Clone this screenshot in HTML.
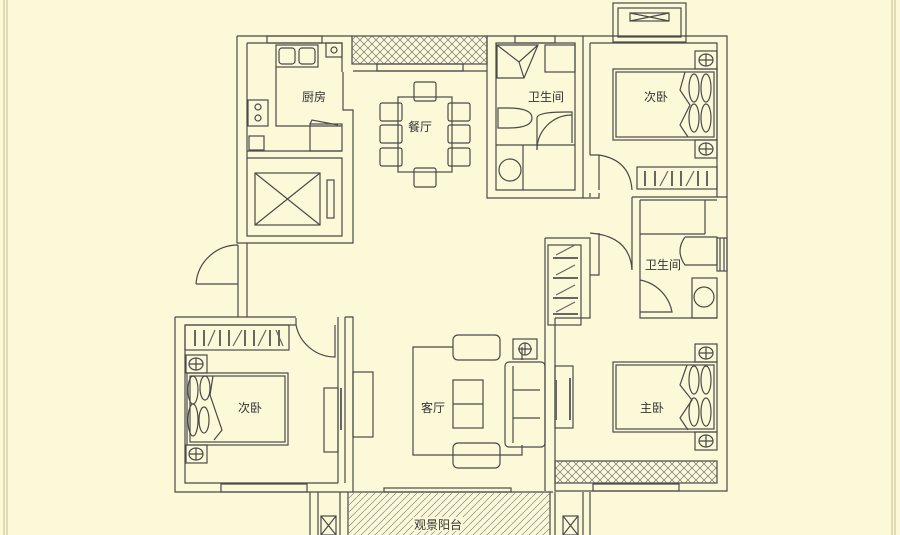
<!DOCTYPE html>
<html><head><meta charset="utf-8"><style>
html,body{margin:0;padding:0;background:#fcf9d9;}
svg{display:block;}
text{font-family:"Liberation Sans","Noto Sans CJK SC",sans-serif;font-size:12px;fill:#333;}
</style></head><body>
<svg width="900" height="535" viewBox="0 0 900 535" xmlns="http://www.w3.org/2000/svg">
<defs>
<pattern id="xh" width="8" height="8" patternUnits="userSpaceOnUse">
<path d="M0,0L8,8M8,0L0,8" stroke="#777" stroke-width="0.7"/>
</pattern>
<pattern id="dh" width="7" height="7" patternUnits="userSpaceOnUse">
<path d="M0,7L7,0" stroke="#888" stroke-width="0.7"/>
</pattern>
</defs>
<rect width="900" height="535" fill="#fcf9d9"/>
<g stroke="#cfc7a0" stroke-width="1.2">
<line x1="4" y1="0" x2="4" y2="535"/><line x1="7" y1="0" x2="7" y2="535"/>
<line x1="892" y1="0" x2="892" y2="535"/><line x1="895" y1="0" x2="895" y2="535"/>
</g>
<g fill="none" stroke="#4a4a4a" stroke-width="1.2">
<!-- kitchen / elevator block -->
<path d="M237,36H352M237,36V243H353V110H343V72"/>
<path d="M247,43H342V72M247,43V236H342V158H247"/>
<line x1="247" y1="151" x2="342" y2="151"/>
<rect x="267" y="36" width="55" height="7"/>
<rect x="255" y="173" width="65" height="52"/><path d="M255,173L320,225M320,173L255,225"/>
<rect x="327" y="180" width="7" height="38"/>
<rect x="276" y="45" width="42" height="22"/><rect x="279" y="48" width="16" height="16" rx="3"/><rect x="299" y="48" width="16" height="16" rx="3"/>
<rect x="326" y="43" width="16" height="14"/><circle cx="334" cy="50" r="3"/>
<path d="M276,67V126H342"/>
<rect x="248" y="100" width="20" height="26"/><circle cx="258" cy="107" r="3"/><circle cx="258" cy="118" r="3"/>
<rect x="249" y="136" width="15" height="14"/>
<rect x="310" y="124" width="32" height="27"/><path d="M310,124L312,120L338,125"/>
<!-- hatched window top -->
<rect x="352" y="36" width="135" height="28" fill="url(#xh)"/>
<rect x="377" y="64" width="86" height="7"/>
<path d="M353,71H487"/>
<!-- dining -->
<rect x="398" y="97" width="54" height="75"/>
<rect x="414" y="82" width="22" height="19" rx="2"/><rect x="414" y="168" width="22" height="19" rx="2"/>
<rect x="380" y="103" width="22" height="18" rx="2"/><rect x="380" y="125" width="22" height="18" rx="2"/><rect x="380" y="148" width="22" height="18" rx="2"/>
<rect x="448" y="103" width="22" height="18" rx="2"/><rect x="448" y="125" width="22" height="18" rx="2"/><rect x="448" y="148" width="22" height="18" rx="2"/>
<!-- bath 1 -->
<path d="M487,71V36H583V198H487V71"/>
<path d="M496,43H575V190H496Z"/>
<rect x="515" y="36" width="40" height="7"/>
<path d="M497,45H538L524,78H497Z"/><path d="M497,45L519,62L538,45M519,62L524,78"/>
<rect x="545" y="45" width="30" height="27"/>
<path d="M498,108H508Q532,108 532,118Q532,128 508,128H498Z"/>
<path d="M496,145H575M523,145V190"/><circle cx="510" cy="170" r="11"/>
<path d="M537,150V118Q537,112 566,112H572V143"/>
<path d="M537,150A35,35 0 0 1 572,115"/>
<!-- right upper block -->
<path d="M583,36H727V491H555V318"/>
<path d="M590,43H717V197M590,43V155"/>
<rect x="613" y="3" width="73" height="39"/><rect x="618" y="8" width="63" height="29"/>
<rect x="630" y="13" width="39" height="8"/><path d="M630,13L669,21M669,13L630,21"/>
<rect x="613" y="69" width="104" height="71"/><rect x="616" y="72" width="98" height="65"/>
<rect x="695" y="51" width="22" height="18"/><ellipse cx="706" cy="60" rx="7" ry="6"/><path d="M699,60H713M706,54V66"/>
<rect x="695" y="140" width="22" height="18"/><ellipse cx="706" cy="149" rx="7" ry="6"/><path d="M699,149H713M706,143V155"/>
<ellipse cx="694" cy="88" rx="5" ry="14"/><ellipse cx="706" cy="88" rx="5" ry="14"/><ellipse cx="694" cy="118" rx="5" ry="14"/><ellipse cx="706" cy="118" rx="5" ry="14"/>
<path d="M685,72L680,90L690,105L680,125L688,137"/>
<rect x="637" y="167" width="80" height="22"/>
<path d="M590,155H599Q630,160 632,190M599,155V190"/>
<path d="M590,197V193M583,198H599V193M583,198V198"/>
<path d="M632,197H727M632,197V270M640,200V318H717M640,200H717"/>
<path d="M640,234H705M705,200V234"/>
<path d="M685,237H717V265H685Q675,251 685,237"/>
<rect x="717" y="238" width="10" height="33"/><path d="M720,238V271M724,238V271"/>
<rect x="692" y="278" width="25" height="40"/><circle cx="704" cy="297" r="10"/>
<path d="M640,280A40,40 0 0 1 672,312H640"/>
<path d="M590,233Q630,236 632,270M599,233V275H590"/>
<!-- corridor wall segment -->
<path d="M545,238H590V318H555M545,238V491"/>
<rect x="548" y="245" width="33" height="80"/>
<!-- master bedroom -->
<rect x="613" y="362" width="104" height="70"/><rect x="616" y="365" width="98" height="64"/>
<rect x="695" y="344" width="22" height="18"/><ellipse cx="706" cy="353" rx="7" ry="6"/><path d="M699,353H713M706,347V359"/>
<rect x="695" y="432" width="22" height="18"/><ellipse cx="706" cy="441" rx="7" ry="6"/><path d="M699,441H713M706,435V447"/>
<ellipse cx="694" cy="380" rx="5" ry="14"/><ellipse cx="706" cy="380" rx="5" ry="14"/><ellipse cx="694" cy="412" rx="5" ry="14"/><ellipse cx="706" cy="412" rx="5" ry="14"/>
<path d="M687,365L680,385L692,400L680,418L688,430"/>
<rect x="555" y="461" width="162" height="22" fill="url(#xh)"/>
<rect x="593" y="484" width="86" height="7"/>
<rect x="555" y="366" width="18" height="62"/>
<!-- entry -->
<path d="M196,284H238V245M238,284V317M247,243V317M196,284A42,42 0 0 1 238,245"/>
<!-- left bedroom -->
<path d="M175,317H296M175,317V492H553M185,325H296V318M185,325V483H338"/>
<path d="M338,317V483M345,317H353V492M345,317V483"/>
<rect x="185" y="325" width="104" height="25"/>
<path d="M296,325A40,40 0 0 0 335,357V325"/>
<rect x="187" y="373" width="101" height="72"/><rect x="190" y="376" width="95" height="66"/>
<rect x="186" y="355" width="21" height="18"/><ellipse cx="196" cy="364" rx="7" ry="6"/><path d="M189,364H203M196,358V370"/>
<rect x="186" y="445" width="21" height="18"/><ellipse cx="196" cy="454" rx="7" ry="6"/><path d="M189,454H203M196,448V460"/>
<ellipse cx="193" cy="390" rx="5" ry="14"/><ellipse cx="205" cy="388" rx="5" ry="12"/><ellipse cx="193" cy="420" rx="5" ry="16"/><ellipse cx="204" cy="420" rx="5" ry="13"/>
<path d="M213,376L210,395L222,430L214,440"/>
<rect x="221" y="484" width="86" height="8"/>
<rect x="324" y="388" width="14" height="64"/><rect x="353" y="372" width="20" height="65"/>
<!-- living -->
<path d="M453,347H413V455H522V445M522,360V347"/>
<rect x="453" y="335" width="47" height="25" rx="5"/><rect x="453" y="443" width="47" height="25" rx="5"/>
<rect x="453" y="380" width="30" height="48"/><path d="M453,404H483"/>
<rect x="505" y="362" width="40" height="85" rx="4"/><path d="M513,366V443M513,390H540M513,418H540"/>
<rect x="513" y="339" width="24" height="20"/><circle cx="525" cy="349" r="6"/><path d="M518,349H532M525,343V355"/>
<rect x="384" y="488" width="127" height="4"/>
<!-- balcony -->
<path d="M310,492V535M318,492V535M340,492V535M348,492V535M550,492V535M555,492V535M583,492V535M590,492V535"/>
<rect x="348" y="492" width="202" height="43" fill="url(#dh)" stroke="none"/>
<rect x="321" y="516" width="15" height="19"/><path d="M321,516L336,535M336,516L321,535"/>
<rect x="563" y="516" width="15" height="19"/><path d="M563,516L578,535M578,516L563,535"/>
</g>
<g stroke="#666" stroke-width="2">
<path d="M195,330V346M204,330V346M220,330V346M229,330V346M245,330V346M254,330V346M270,330V346M279,330V346"/>
<path d="M645,171V186M655,171V186M672,171V186M681,171V186M698,171V186M707,171V186"/>
<path d="M553,258H578M553,278H578M553,298H578M553,314H578"/>
<path d="M341,388V430M556,380V420M570,378V420"/>
</g>
<g stroke="#666" stroke-width="1.2">
<path d="M208,346L215,330M233,346L242,330M258,346L266,330M283,346L276,330"/>
<path d="M660,186L668,171M686,186L694,171"/>
<path d="M556,255L575,245M556,275L575,265M556,295L575,285M556,312L575,302"/>
</g>
<text x="302" y="101">厨房</text>
<text x="408" y="131">餐厅</text>
<text x="528" y="101">卫生间</text>
<text x="644" y="101">次卧</text>
<text x="645" y="269">卫生间</text>
<text x="238" y="412">次卧</text>
<text x="421" y="412">客厅</text>
<text x="640" y="412">主卧</text>
<rect x="413" y="517" width="50" height="14" fill="#fcf9d9"/>
<text x="414" y="529">观景阳台</text>
</svg>
</body></html>
